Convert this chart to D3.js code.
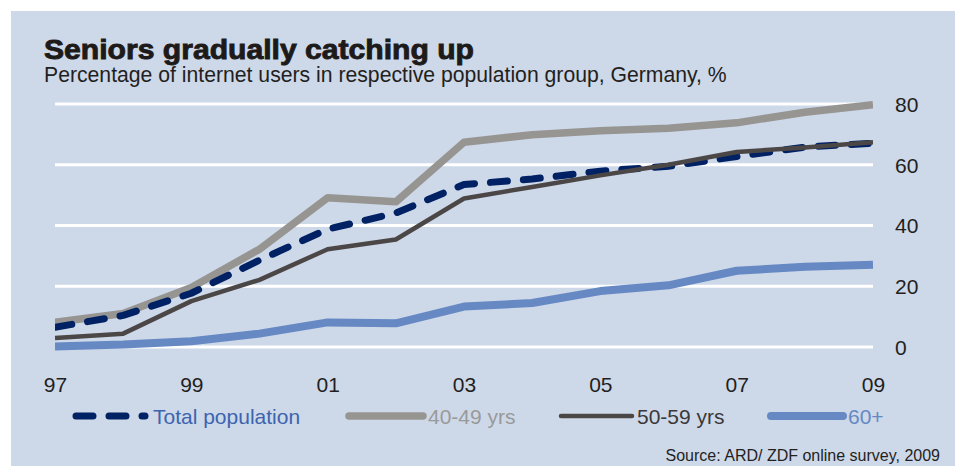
<!DOCTYPE html>
<html>
<head>
<meta charset="utf-8">
<script src="https://cdn.jsdelivr.net/npm/d3@7"></script>
<style>
  html, body { margin: 0; padding: 0; background: #ffffff; }
  svg { display: block; font-family: "Liberation Sans", Arial, Helvetica, sans-serif; }
</style>
</head>
<body>
<svg id="chart" width="957" height="466"></svg>
<script>
// Internet users by age group, Germany (ARD/ZDF online survey), %
const years = ["97", "98", "99", "00", "01", "02", "03", "04", "05", "06", "07", "08", "09"];
const yearTicks = ["97", "99", "01", "03", "05", "07", "09"];
const valueTicks = [0, 20, 40, 60, 80];

const totalPopulation = [6.5, 10.4, 17.7, 28.6, 38.8, 44.1, 53.5, 55.3, 57.9, 59.5, 62.7, 65.8, 67.1];
const age40to49 = [8.1, 11.0, 19.6, 32.2, 49.1, 47.8, 67.4, 69.9, 71.2, 72.0, 73.8, 77.3, 79.8];
const age50to59 = [3.0, 4.4, 15.1, 22.1, 32.2, 35.4, 48.9, 52.7, 56.5, 60.0, 64.2, 65.7, 67.4];
const age60plus = [0.2, 0.8, 1.9, 4.4, 8.1, 7.8, 13.3, 14.5, 18.4, 20.3, 25.1, 26.4, 27.1];

const seriesNames = ["Total population", "40-49 yrs", "50-59 yrs", "60+"];

const svg = d3.select("#chart");

// background panel
svg.append("rect")
  .attr("x", 11).attr("y", 11).attr("width", 944).attr("height", 455)
  .attr("fill", "#cdd8e9");

// headings
svg.append("text")
  .attr("x", 44).attr("y", 59)
  .attr("font-size", 28).attr("font-weight", 900)
  .attr("fill", "#1d1a1a").attr("stroke", "#1d1a1a").attr("stroke-width", 0.9)
  .attr("textLength", 430).attr("lengthAdjust", "spacingAndGlyphs")
  .text("Seniors gradually catching up");

svg.append("text")
  .attr("x", 44).attr("y", 82)
  .attr("font-size", 21.2).attr("fill", "#231f20")
  .text("Percentage of internet users in respective population group, Germany, %");

// scales
const x = d3.scalePoint().domain(years).range([55, 873]);
const y = d3.scaleLinear().domain([0, 80]).range([347, 104]);

// right-side value labels
const yAxis = d3.axisRight(y).tickValues(valueTicks).tickSize(0).tickPadding(0);
const gy = svg.append("g").attr("transform", "translate(895,0)").call(yAxis);
gy.select(".domain").remove();
gy.selectAll("text")
  .attr("font-size", 21).attr("fill", "#231f20")
  .attr("font-family", "Liberation Sans, Arial, sans-serif")
  .attr("x", 0).attr("dy", "0.35em").attr("text-anchor", "start");

// horizontal gridlines
svg.append("g").selectAll("line")
  .data(valueTicks)
  .join("line")
  .attr("x1", 55).attr("x2", 873)
  .attr("y1", d => y(d)).attr("y2", d => y(d))
  .attr("stroke", "#ffffff").attr("stroke-width", 2.8);

// bottom year labels
const xAxis = d3.axisBottom(x).tickValues(yearTicks).tickSize(0).tickPadding(0);
const gx = svg.append("g").attr("transform", "translate(0,376)").call(xAxis);
gx.select(".domain").remove();
gx.selectAll("text")
  .attr("font-size", 21).attr("fill", "#231f20")
  .attr("font-family", "Liberation Sans, Arial, sans-serif")
  .attr("y", 0).attr("dy", "0.75em");

// plot clip
svg.append("clipPath").attr("id", "plotClip")
  .append("rect").attr("x", 55).attr("y", 60).attr("width", 818).attr("height", 320);

const line = d3.line()
  .x((d, i) => x(years[i]))
  .y(d => y(d));

const styles = {
  "40-49 yrs":        { data: age40to49,       color: "#969592", width: 7.5, dash: null,    cap: "butt",  text: "#9a9a9a" },
  "Total population": { data: totalPopulation, color: "#002163", width: 7,   dash: "17,16", cap: "round", text: "#3d64ae" },
  "50-59 yrs":        { data: age50to59,       color: "#4b4747", width: 4.5, dash: null,    cap: "butt",  text: "#3b3838" },
  "60+":              { data: age60plus,       color: "#6688c3", width: 8,   dash: null,    cap: "butt",  text: "#6688c3" }
};

const drawOrder = ["40-49 yrs", "Total population", "50-59 yrs", "60+"];
const plot = svg.append("g").attr("clip-path", "url(#plotClip)");
drawOrder.forEach(name => {
  const s = styles[name];
  plot.append("path")
    .datum(s.data)
    .attr("d", line)
    .attr("fill", "none")
    .attr("stroke", s.color)
    .attr("stroke-width", s.width)
    .attr("stroke-linecap", s.cap)
    .attr("stroke-linejoin", "round")
    .attr("stroke-dasharray", s.dash);
});

// legend
const legendX = { "Total population": 76, "40-49 yrs": 349, "50-59 yrs": 561, "60+": 771 };
const legendLen = { "Total population": 69, "40-49 yrs": 74, "50-59 yrs": 71, "60+": 72 };
const legend = svg.append("g");
seriesNames.forEach(name => {
  const s = styles[name];
  const x0 = legendX[name];
  const len = legendLen[name];
  legend.append("line")
    .attr("x1", x0).attr("x2", x0 + len)
    .attr("y1", 416).attr("y2", 416)
    .attr("stroke", s.color)
    .attr("stroke-width", s.width)
    .attr("stroke-linecap", "round")
    .attr("stroke-dasharray", s.dash);
  legend.append("text")
    .attr("x", name === "Total population" ? x0 + 77 : x0 + len + 5)
    .attr("y", 424)
    .attr("font-size", 21)
    .attr("fill", s.text)
    .text(name);
});

// source note
svg.append("text")
  .attr("x", 940).attr("y", 461)
  .attr("text-anchor", "end")
  .attr("font-size", 16).attr("fill", "#231f20")
  .text("Source: ARD/ ZDF online survey, 2009");
</script>
</body>
</html>
